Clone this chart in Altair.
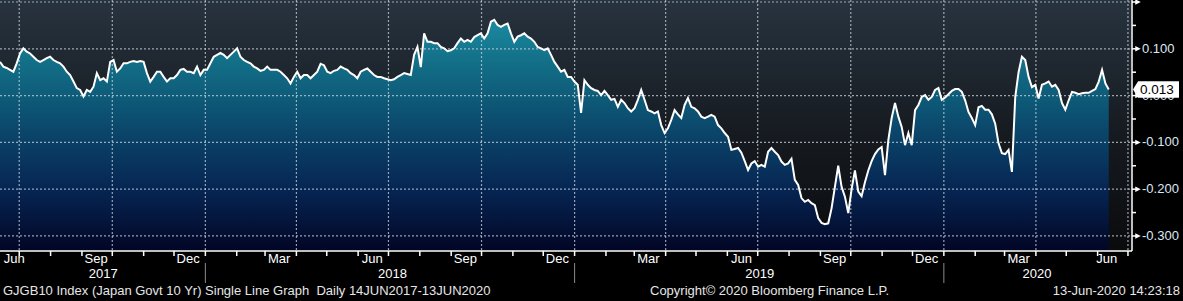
import altair as alt
import pandas as pd

# ---------------- layout ----------------
W, H = 1131, 250
YMIN, YMAX = -0.33, 0.2043
FONT = "Liberation Sans"
FS = 13

# ---------------- data ----------------
SERIES_START = "2017-06-12"
SERIES_END = "2020-06-12"
YIELD = [
    0.072, 0.062, 0.059, 0.055, 0.051, 0.069,
    0.090, 0.101, 0.094, 0.090, 0.083, 0.076, 0.072, 0.076, 0.080, 0.083,
    0.076, 0.072, 0.069, 0.062, 0.051, 0.044, 0.030, 0.016, 0.012, -0.002,
    0.012, 0.008, 0.019, 0.048, 0.033, 0.037, 0.030, 0.072, 0.076, 0.051,
    0.058, 0.069, 0.069, 0.072, 0.074, 0.072, 0.074, 0.072, 0.048, 0.030,
    0.040, 0.051, 0.051, 0.040, 0.030, 0.037, 0.037, 0.044, 0.055, 0.057,
    0.051, 0.051, 0.048, 0.062, 0.044, 0.055, 0.055, 0.069, 0.083, 0.087,
    0.091, 0.087, 0.080, 0.087, 0.094, 0.101, 0.083, 0.076, 0.072, 0.069,
    0.062, 0.058, 0.053, 0.055, 0.062, 0.055, 0.055, 0.055, 0.051, 0.044,
    0.037, 0.026, 0.040, 0.051, 0.037, 0.044, 0.044, 0.037, 0.044, 0.051,
    0.068, 0.065, 0.051, 0.048, 0.053, 0.055, 0.062, 0.058, 0.055, 0.048,
    0.044, 0.037, 0.051, 0.055, 0.058, 0.051, 0.044, 0.040,
    0.040, 0.037, 0.035, 0.033, 0.035, 0.040, 0.044, 0.048, 0.046, 0.044,
    0.087, 0.104, 0.061, 0.133, 0.115, 0.115, 0.112, 0.112, 0.104, 0.101,
    0.095, 0.097, 0.101, 0.112, 0.122, 0.115, 0.119, 0.115, 0.125, 0.129,
    0.133, 0.122, 0.133, 0.158, 0.162, 0.151, 0.147, 0.151, 0.154, 0.133,
    0.115, 0.126, 0.129, 0.133, 0.126, 0.122, 0.115, 0.104, 0.101, 0.097,
    0.101, 0.087, 0.072, 0.062, 0.051, 0.055, 0.040, 0.040, 0.030, 0.023,
    -0.037, 0.033, 0.023, 0.016, 0.012, 0.010, 0.001, 0.010, 0.001, -0.009,
    -0.007, -0.024, -0.009, -0.016, -0.027, -0.034, -0.027, -0.009, 0.012, -0.009,
    -0.031, -0.034, -0.038, -0.034, -0.063, -0.080, -0.070, -0.052, -0.031, -0.040,
    -0.048, -0.020, -0.005, -0.024, -0.027, -0.034, -0.045, -0.048, -0.045, -0.041,
    -0.045, -0.063, -0.070, -0.080, -0.088, -0.116, -0.114, -0.112, -0.122, -0.140,
    -0.159, -0.145, -0.140, -0.152,
    -0.148, -0.152, -0.120, -0.112, -0.120, -0.127, -0.141, -0.148, -0.145, -0.135,
    -0.180, -0.191, -0.219, -0.227, -0.223, -0.230, -0.234, -0.262, -0.272, -0.275,
    -0.273, -0.241, -0.195, -0.150, -0.195, -0.216, -0.251, -0.200, -0.160, -0.205,
    -0.215, -0.185, -0.160, -0.140, -0.125, -0.115, -0.110, -0.170, -0.095, -0.048,
    -0.016, -0.045, -0.067, -0.106, -0.080, -0.106, -0.031, -0.020, -0.003, 0.001,
    -0.009, -0.003, 0.012, 0.016, -0.009, -0.004, 0.003, 0.010, 0.014, 0.014,
    0.008, -0.010, -0.035, -0.048, -0.063, -0.025, -0.022, -0.030, -0.030, -0.040,
    -0.060, -0.102, -0.123, -0.125, -0.116, -0.163, -0.003, 0.050, 0.083, 0.076,
    0.040, 0.018, 0.023, -0.006, 0.023, 0.026, 0.030, 0.019, 0.023, 0.012,
    -0.016, -0.030, -0.010, 0.008, 0.006, 0.003, 0.005, 0.006, 0.006, 0.010,
    0.014, 0.030, 0.055, 0.026, 0.013,
]
LAST_LABEL = "0.013"

GRID_DATES = ["2017-07-01", "2017-10-01", "2018-01-01", "2018-04-01", "2018-07-01",
              "2018-10-01", "2019-01-01", "2019-04-01", "2019-07-01", "2019-10-01",
              "2020-01-01", "2020-04-01", "2020-07-01"]
MONTH_LABEL_DATES = ["2017-06-26", "2017-09-15", "2017-12-15", "2018-03-15", "2018-06-15",
                     "2018-09-15", "2018-12-15", "2019-03-15", "2019-06-15", "2019-09-15",
                     "2019-12-15", "2020-03-15", "2020-06-10"]
MONTH_LABELS = ["Jun", "Sep", "Dec", "Mar", "Jun", "Sep", "Dec", "Mar", "Jun", "Sep",
                "Dec", "Mar", "Jun"]
YEAR_LABEL_DATES = ["2017-09-22", "2018-07-05", "2019-07-03", "2020-04-02"]
YEAR_LABELS = ["2017", "2018", "2019", "2020"]
YEAR_BREAKS = ["2018-01-01", "2019-01-01", "2020-01-01"]
Y_MAJOR = [-0.3, -0.2, -0.1, 0.0, 0.1, 0.2]
Y_MINOR = [-0.25, -0.15, -0.05, 0.05, 0.15]
Y_LABEL_VALUES = [-0.3, -0.2, -0.1, 0.0, 0.1]
Y_LABELS = ["-0.300", "-0.200", "-0.100", "0.000", "0.100"]

FOOT_LEFT = "GJGB10 Index (Japan Govt 10 Yr) Single Line Graph \u00a0Daily 14JUN2017-13JUN2020"
FOOT_MID = "Copyright\u00a9 2020 Bloomberg Finance L.P."
FOOT_RIGHT = "13-Jun-2020 14:23:18"

# ---------------- tables ----------------
series = pd.DataFrame({
    "date": pd.date_range(SERIES_START, SERIES_END, periods=len(YIELD)),
    "value": YIELD,
})
grid_x = pd.DataFrame({"date": pd.to_datetime(GRID_DATES)})
month_ticks = pd.DataFrame({"date": pd.date_range("2017-07-01", "2020-07-01", freq="MS")})
month_lab = pd.DataFrame({"date": pd.to_datetime(MONTH_LABEL_DATES), "label": MONTH_LABELS})
year_lab = pd.DataFrame({"date": pd.to_datetime(YEAR_LABEL_DATES), "label": YEAR_LABELS})
year_brk = pd.DataFrame({"date": pd.to_datetime(YEAR_BREAKS)})
y_major = pd.DataFrame({"v": Y_MAJOR})
y_minor = pd.DataFrame({"v": Y_MINOR})
y_lab = pd.DataFrame({"v": Y_LABEL_VALUES, "label": Y_LABELS})
last = pd.DataFrame({"v": [YIELD[-1]], "label": [LAST_LABEL]})
one = pd.DataFrame({"a": [0]})

XS = alt.Scale(domain=[alt.DateTime(year=2017, month=6, date=12),
                       alt.DateTime(year=2020, month=7, date=4)])
YS = alt.Scale(domain=[YMIN, YMAX], nice=False, zero=False)


def X(f):
    return alt.X(f"{f}:T", scale=XS, axis=None)


def Y(f):
    return alt.Y(f"{f}:Q", scale=YS, axis=None)


bg = alt.Chart(one).mark_rect(
    color=alt.LinearGradient(
        gradient="linear", x1=0, x2=0, y1=0, y2=1,
        stops=[alt.GradientStop(color="#27333f", offset=0),
               alt.GradientStop(color="#171c22", offset=0.5),
               alt.GradientStop(color="#0a0b0d", offset=1)])
).encode(x=alt.value(0), x2=alt.value(W), y=alt.value(0), y2=alt.value(H))

area = alt.Chart(series).mark_area(
    color=alt.LinearGradient(
        gradient="linear", x1=0, x2=0, y1=0, y2=1,
        stops=[alt.GradientStop(color="#1b8aa1", offset=0),
               alt.GradientStop(color="#137189", offset=0.17),
               alt.GradientStop(color="#0e5c79", offset=0.33),
               alt.GradientStop(color="#0a4167", offset=0.52),
               alt.GradientStop(color="#062552", offset=0.74),
               alt.GradientStop(color="#020626", offset=1)])
).encode(x=X("date"), y=Y("value"), y2=alt.Y2(datum=YMIN))

GRID_STYLE = dict(color="#c8d0d8", opacity=0.75, strokeWidth=1.2, strokeDash=[2, 2])
hgrid = alt.Chart(y_major).mark_rule(**GRID_STYLE).encode(
    y=Y("v"), x=alt.value(0), x2=alt.value(W))
vgrid = alt.Chart(grid_x).mark_rule(**GRID_STYLE).encode(
    x=X("date"), y=alt.value(0), y2=alt.value(H))

line = alt.Chart(series).mark_line(color="white", strokeWidth=2).encode(
    x=X("date"), y=Y("value"))

axis_b = alt.Chart(one).mark_rule(color="white", strokeWidth=1.5).encode(
    x=alt.value(0), x2=alt.value(W + 1), y=alt.value(H + 1))
axis_r = alt.Chart(one).mark_rule(color="white", strokeWidth=1.5).encode(
    x=alt.value(W + 1), y=alt.value(0), y2=alt.value(H + 1))

mticks = alt.Chart(month_ticks).mark_rule(color="white", strokeWidth=1.5).encode(
    x=X("date"), y=alt.value(H + 1), y2=alt.value(H + 6))
ybreaks = alt.Chart(year_brk).mark_rule(color="#8a8a8a", strokeWidth=1).encode(
    x=X("date"), y=alt.value(H + 13), y2=alt.value(H + 33))

mlabels = alt.Chart(month_lab).mark_text(
    font=FONT, fontSize=FS, color="white", align="center", baseline="middle"
).encode(x=X("date"), y=alt.value(H + 9), text="label:N")
ylabels_x = alt.Chart(year_lab).mark_text(
    font=FONT, fontSize=FS, color="white", align="center", baseline="middle"
).encode(x=X("date"), y=alt.value(H + 24), text="label:N")

ymaj_tick = alt.Chart(y_major).mark_rule(color="white", strokeWidth=1.5).encode(
    y=Y("v"), x=alt.value(W + 1), x2=alt.value(W + 5))
ymaj_arrow = alt.Chart(y_major).mark_point(
    shape="M -1 -1 L 1 0 L -1 1 Z", size=30, filled=True, color="white", opacity=1
).encode(y=Y("v"), x=alt.value(W + 7))
ymin_tick = alt.Chart(y_minor).mark_rule(color="white", strokeWidth=1.5).encode(
    y=Y("v"), x=alt.value(W + 1), x2=alt.value(W + 5))
ylabels = alt.Chart(y_lab).mark_text(
    font=FONT, fontSize=FS, color="#dde8f4", align="left", baseline="middle"
).encode(y=Y("v"), x=alt.value(W + 11), text="label:N")

vbox = alt.Chart(last).mark_point(
    shape="M -1 0 L -0.78 -0.36 L 1 -0.36 L 1 0.36 L -0.78 0.36 Z",
    size=2116, filled=True, color="white", opacity=1, strokeWidth=0
).encode(y=Y("v"), x=alt.value(W + 25))
vtext = alt.Chart(last).mark_text(
    font=FONT, fontSize=FS + 0.5, color="black", align="left", baseline="middle"
).encode(y=Y("v"), x=alt.value(W + 9), text="label:N")

foot_l = alt.Chart(one).mark_text(
    font=FONT, fontSize=FS, color="#e6e6e6", align="left", baseline="middle"
).encode(x=alt.value(3), y=alt.value(H + 41), text=alt.value(FOOT_LEFT))
foot_m = alt.Chart(one).mark_text(
    font=FONT, fontSize=FS, color="#e6e6e6", align="left", baseline="middle"
).encode(x=alt.value(650), y=alt.value(H + 41), text=alt.value(FOOT_MID))
foot_r = alt.Chart(one).mark_text(
    font=FONT, fontSize=FS, color="#e6e6e6", align="right", baseline="middle"
).encode(x=alt.value(1180), y=alt.value(H + 41), text=alt.value(FOOT_RIGHT))

chart = alt.layer(
    bg, area, hgrid, vgrid, line, axis_b, axis_r, mticks, ybreaks, mlabels, ylabels_x,
    ymaj_tick, ymaj_arrow, ymin_tick, ylabels, vbox, vtext, foot_l, foot_m, foot_r
).properties(
    width=W, height=H,
    padding={"left": 0, "top": 0, "right": 52, "bottom": 51},
    autosize=alt.AutoSizeParams(type="none"),
    background="black",
).configure_view(strokeWidth=0)

chart.save("out.html", embed_options={"renderer": "svg", "actions": False})
